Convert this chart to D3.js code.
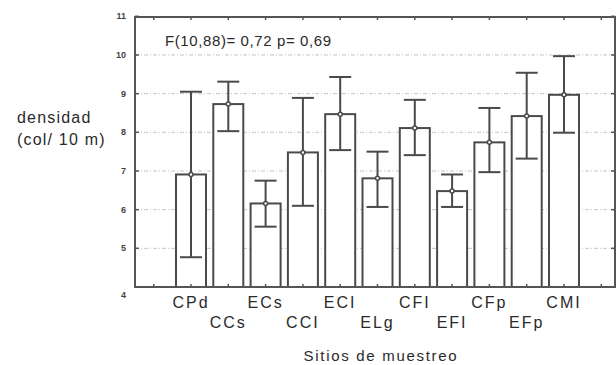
<!DOCTYPE html>
<html>
<head>
<meta charset="utf-8">
<script src="https://cdn.jsdelivr.net/npm/d3@7"></script>
<style>
  body { margin: 0; background: #fff; }
  text { font-family: "Liberation Sans", Arial, sans-serif; fill: #2a2a2a; }
</style>
</head>
<body>
<div id="chart"></div>
<script>
// sampling sites and density (col / 10 m): mean, lower and upper limits
const sites = ['CPd', 'CCs', 'ECs', 'CCl', 'ECl', 'ELg', 'CFl', 'EFl', 'CFp', 'EFp', 'CMl'];
const siteLabels = ['CPd', 'CCs', 'ECs', 'CCI', 'ECI', 'ELg', 'CFI', 'EFI', 'CFp', 'EFp', 'CMI'];
const means = [6.91, 8.73, 6.16, 7.48, 8.47, 6.81, 8.11, 6.48, 7.74, 8.42, 8.97];
const lows  = [4.77, 8.03, 5.56, 6.10, 7.54, 6.07, 7.41, 6.07, 6.97, 7.32, 7.99];
const highs = [9.05, 9.31, 6.75, 8.89, 9.43, 7.50, 8.84, 6.91, 8.63, 9.54, 9.97];
const yTicks = [4, 5, 6, 7, 8, 9, 10, 11];
const statText = 'F(10,88)= 0,72 p= 0,69';

const W = 616, H = 365;
const frame = { left: 135, right: 615, top: 17, bottom: 287 };

const svg = d3.select('#chart')
    .append('svg')
    .attr('width', W)
    .attr('height', H);

const data = sites.map((s, i) => ({ site: s, label: siteLabels[i], mean: means[i], lo: lows[i], hi: highs[i] }));

const x = d3.scalePoint()
    .domain(sites)
    .range([191, 564]);

const y = d3.scaleLinear()
    .domain([4, 11])
    .range([frame.bottom, frame.bottom - 7 * 38.67]);

const step = x.step();
const barW = 30;
const capW = 22;
const stroke = '#4a4a4a';

// dashed grid lines
svg.append('g')
    .selectAll('line')
    .data(yTicks.filter(d => d > 4 && d < 11))
    .join('line')
    .attr('x1', frame.left)
    .attr('x2', frame.right)
    .attr('y1', d => y(d))
    .attr('y2', d => y(d))
    .style('stroke', '#c4c4c4')
    .style('stroke-width', 1)
    .style('stroke-dasharray', '4,2,1,2');

// bars
svg.append('g')
    .selectAll('rect')
    .data(data)
    .join('rect')
    .attr('x', d => x(d.site) - barW / 2)
    .attr('width', barW)
    .attr('y', d => y(d.mean))
    .attr('height', d => y(4) - y(d.mean))
    .style('fill', '#fff')
    .style('stroke', stroke)
    .style('stroke-width', 2);

// error bars
const eb = svg.append('g')
    .selectAll('g')
    .data(data)
    .join('g')
    .style('stroke', stroke)
    .style('stroke-width', 2);

eb.append('line')
    .attr('x1', d => x(d.site))
    .attr('x2', d => x(d.site))
    .attr('y1', d => y(d.lo))
    .attr('y2', d => y(d.hi));

eb.append('line')
    .attr('x1', d => x(d.site) - capW / 2)
    .attr('x2', d => x(d.site) + capW / 2)
    .attr('y1', d => y(d.hi))
    .attr('y2', d => y(d.hi));

eb.append('line')
    .attr('x1', d => x(d.site) - capW / 2)
    .attr('x2', d => x(d.site) + capW / 2)
    .attr('y1', d => y(d.lo))
    .attr('y2', d => y(d.lo));

eb.append('circle')
    .attr('cx', d => x(d.site))
    .attr('cy', d => y(d.mean))
    .attr('r', 2)
    .style('fill', '#fff')
    .style('stroke-width', 1.5);

// frame
svg.append('rect')
    .attr('x', frame.left)
    .attr('y', frame.top)
    .attr('width', frame.right - frame.left)
    .attr('height', frame.bottom - frame.top)
    .style('fill', 'none')
    .style('stroke', '#555')
    .style('stroke-width', 2);

// inward tick marks on all four sides
const xTickPos = [x(sites[0]) - step, ...sites.map(s => x(s)), x(sites[sites.length - 1]) + step];
const ticks = svg.append('g').style('stroke', '#555').style('stroke-width', 1.5);
xTickPos.forEach(px => {
    ticks.append('line').attr('x1', px).attr('x2', px).attr('y1', frame.bottom).attr('y2', frame.bottom - 3);
    ticks.append('line').attr('x1', px).attr('x2', px).attr('y1', frame.top).attr('y2', frame.top + 3);
});
yTicks.forEach(v => {
    ticks.append('line').attr('x1', frame.left).attr('x2', frame.left + 4).attr('y1', y(v)).attr('y2', y(v));
    ticks.append('line').attr('x1', frame.right).attr('x2', frame.right - 4).attr('y1', y(v)).attr('y2', y(v));
});

// y tick labels
svg.append('g')
    .selectAll('text')
    .data(yTicks)
    .join('text')
    .attr('x', 126)
    .attr('y', d => y(d) + (d === 4 ? 8 : 0))
    .attr('dy', '0.35em')
    .attr('text-anchor', 'end')
    .style('font-size', '9px')
    .style('font-weight', 'bold')
    .style('fill', '#444')
    .text(d => d);

// category labels, staggered in two rows
svg.append('g')
    .selectAll('text')
    .data(data)
    .join('text')
    .attr('x', d => x(d.site))
    .attr('y', (d, i) => i % 2 === 0 ? 308 : 328)
    .attr('text-anchor', 'middle')
    .style('font-size', '16px')
    .style('letter-spacing', '2px')
    .text(d => d.label);

// axis titles
svg.append('text')
    .attr('x', 381)
    .attr('y', 361)
    .attr('text-anchor', 'middle')
    .style('font-size', '15px')
    .style('letter-spacing', '1.7px')
    .text('Sitios de muestreo');

const yTitle = svg.append('text')
    .style('font-size', '16px')
    .style('letter-spacing', '1.2px');
yTitle.append('tspan').attr('x', 17).attr('y', 123).text('densidad');
yTitle.append('tspan').attr('x', 17).attr('y', 145).text('(col/ 10 m)');

// statistic annotation
svg.append('text')
    .attr('x', 165)
    .attr('y', 46)
    .style('font-size', '15px')
    .style('letter-spacing', '0.6px')
    .text(statText);
</script>
</body>
</html>
